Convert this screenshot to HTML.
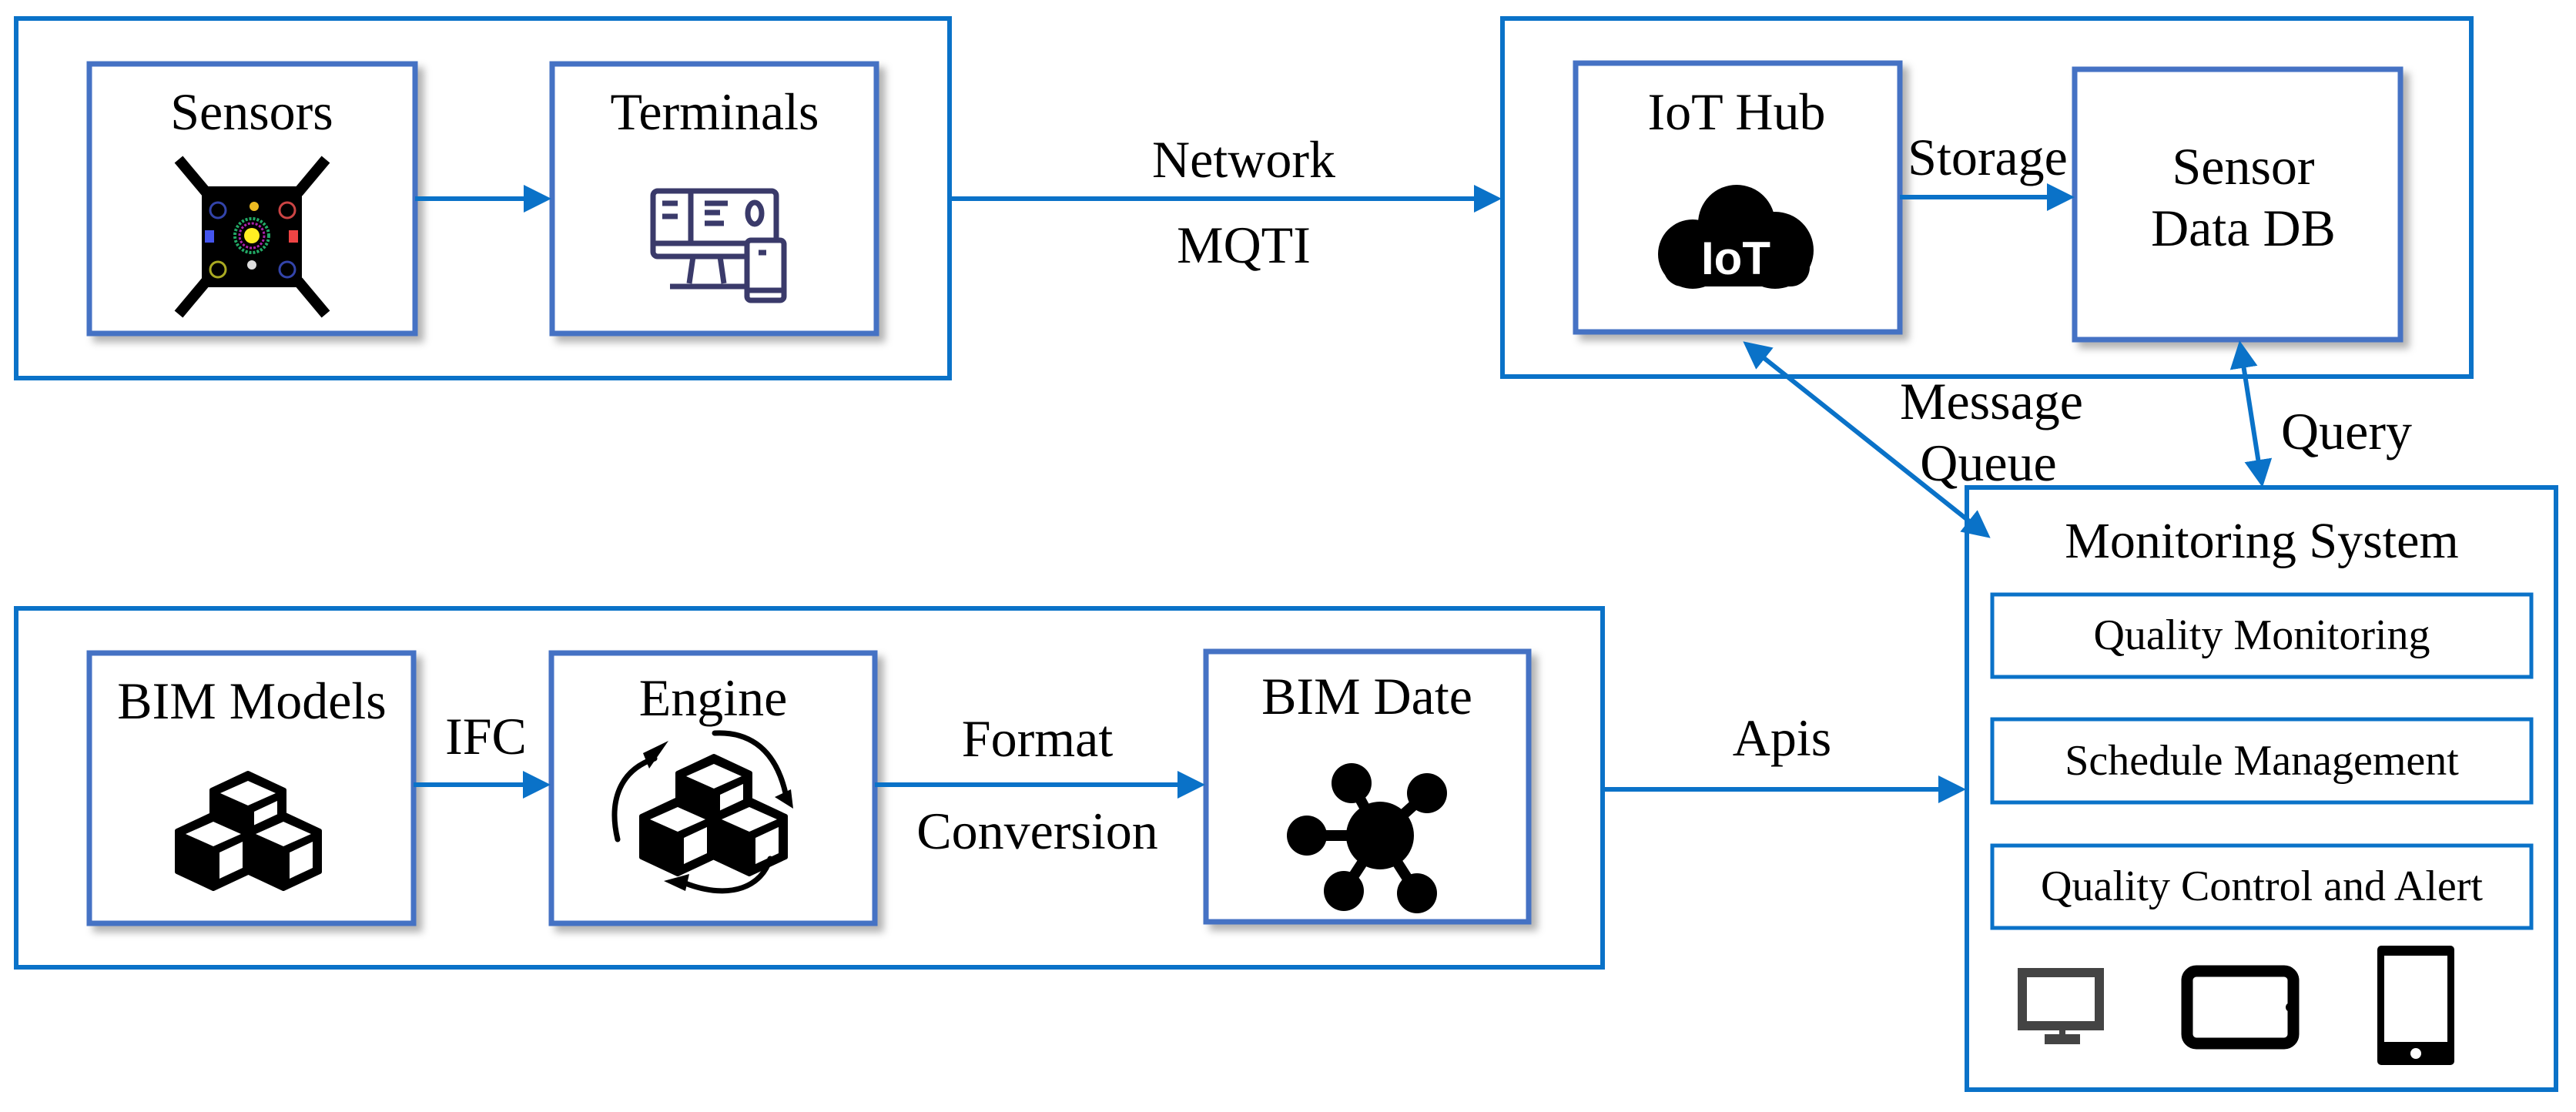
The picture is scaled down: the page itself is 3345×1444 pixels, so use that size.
<!DOCTYPE html>
<html><head><meta charset="utf-8"><style>
html,body{margin:0;padding:0;background:#fff;}
svg{display:block;}
.s{font-family:"Liberation Serif","Times New Roman",Times,serif;fill:#000;}
</style></head><body>
<svg width="3345" height="1444" viewBox="0 0 3345 1444" xmlns="http://www.w3.org/2000/svg">
<defs>
<marker id="ah" markerWidth="6" markerHeight="6" refX="5" refY="3" orient="auto-start-reverse" markerUnits="strokeWidth">
<path d="M0,0 L6,3 L0,6 Z" fill="#0a72c8"/>
</marker>
<filter id="sh" x="-5%" y="-5%" width="115%" height="115%">
<feDropShadow dx="8" dy="8" stdDeviation="5" flood-color="#000" flood-opacity="0.3"/>
</filter>
<g id="cube">
<path d="M0,0 L47,22 L47,75 L0,97 L-47,75 L-47,22 Z" fill="#000" stroke="#000" stroke-width="6" stroke-linejoin="round"/>
<path d="M0,10 L36,26 L0,42 L-36,26 Z" fill="#fff"/>
<path d="M8,50 L38,36 L38,70 L8,84 Z" fill="#fff"/>
</g>
</defs>

<rect x="21" y="24" width="1212" height="467" fill="none" stroke="#0a72c8" stroke-width="6"/>
<rect x="1951" y="24" width="1258" height="465" fill="none" stroke="#0a72c8" stroke-width="6"/>
<rect x="21" y="790" width="2060" height="466" fill="none" stroke="#0a72c8" stroke-width="6"/>
<rect x="2554" y="633" width="765" height="782" fill="none" stroke="#0a72c8" stroke-width="6"/>

<g fill="#fff" stroke="#4472c4" stroke-width="7" filter="url(#sh)">
<rect x="116" y="83" width="423" height="350"/>
<rect x="717" y="83" width="421" height="350"/>
<rect x="2046" y="82" width="421" height="349"/>
<rect x="2694" y="90" width="423" height="351"/>
<rect x="116" y="848" width="421" height="351"/>
<rect x="716" y="848" width="420" height="351"/>
<rect x="1566" y="846" width="419" height="351"/>
</g>
<g fill="none" stroke="#0a72c8" stroke-width="5">
<rect x="2587" y="772" width="700" height="107"/>
<rect x="2587" y="934" width="700" height="108"/>
<rect x="2587" y="1098" width="700" height="107"/>
</g>

<g stroke="#0a72c8" stroke-width="6" fill="none">
<line x1="539" y1="258" x2="710" y2="258" marker-end="url(#ah)"/>
<line x1="1233" y1="258" x2="1944" y2="258" marker-end="url(#ah)"/>
<line x1="2467" y1="256" x2="2688" y2="256" marker-end="url(#ah)"/>
<line x1="537" y1="1019" x2="709" y2="1019" marker-end="url(#ah)"/>
<line x1="1136" y1="1019" x2="1559" y2="1019" marker-end="url(#ah)"/>
<line x1="2081" y1="1025" x2="2547" y2="1025" marker-end="url(#ah)"/>
<line x1="2268" y1="447" x2="2580" y2="695" marker-start="url(#ah)" marker-end="url(#ah)"/>
<line x1="2909" y1="448" x2="2937" y2="627" marker-start="url(#ah)" marker-end="url(#ah)"/>
</g>

<g font-size="68" text-anchor="middle" font-family="'Liberation Serif','Times New Roman',serif" class="s">
<text class="s" x="327" y="168">Sensors</text>
<text class="s" x="928" y="168">Terminals</text>
<text class="s" x="2255" y="168">IoT Hub</text>
<text class="s" x="2913" y="239">Sensor</text>
<text class="s" x="2913" y="319">Data DB</text>
<text class="s" x="2581" y="227">Storage</text>
<text class="s" x="1615" y="230">Network</text>
<text class="s" x="1615" y="341">MQTI</text>
<text class="s" x="2586" y="544">Message</text>
<text class="s" x="2582" y="624">Queue</text>
<text class="s" x="3047" y="583">Query</text>
<text class="s" x="327" y="933">BIM Models</text>
<text class="s" x="631" y="979">IFC</text>
<text class="s" x="926" y="929">Engine</text>
<text class="s" x="1347" y="982">Format</text>
<text class="s" x="1347" y="1102">Conversion</text>
<text class="s" x="1775" y="927">BIM Date</text>
<text class="s" x="2314" y="981">Apis</text>
<text class="s" x="2937" y="724" font-size="66">Monitoring System</text>
</g>
<g font-size="56" text-anchor="middle" font-family="'Liberation Serif','Times New Roman',serif" class="s">
<text class="s" x="2937" y="843">Quality Monitoring</text>
<text class="s" x="2937" y="1006">Schedule Management</text>
<text class="s" x="2937" y="1169">Quality Control and Alert</text>
</g>

<g>
<g stroke="#000" stroke-width="14" stroke-linecap="butt">
<line x1="232" y1="207" x2="268" y2="250"/>
<line x1="423" y1="207" x2="387" y2="250"/>
<line x1="232" y1="408" x2="268" y2="365"/>
<line x1="423" y1="408" x2="387" y2="365"/>
</g>
<rect x="262" y="242" width="130" height="131" fill="#000"/>
<circle cx="283" cy="273" r="10" fill="none" stroke="#3344aa" stroke-width="3"/>
<circle cx="373" cy="273" r="10" fill="none" stroke="#cc4444" stroke-width="3"/>
<circle cx="283" cy="350" r="10" fill="none" stroke="#aaaa22" stroke-width="3"/>
<circle cx="373" cy="350" r="10" fill="none" stroke="#3344aa" stroke-width="3"/>
<circle cx="327" cy="306" r="22" fill="none" stroke="#22aa66" stroke-width="4" stroke-dasharray="3 2"/>
<circle cx="327" cy="306" r="16" fill="none" stroke="#aa22aa" stroke-width="3" stroke-dasharray="3 2"/>
<circle cx="327" cy="306" r="10" fill="#ffee22"/>
<rect x="266" y="299" width="12" height="16" fill="#4455ee"/>
<rect x="375" y="299" width="12" height="16" fill="#ee4444"/>
<circle cx="330" cy="268" r="6" fill="#eebb22"/>
<circle cx="327" cy="344" r="6" fill="#ddd"/>
</g>

<g fill="none" stroke="#3a3a6a" stroke-width="7">
<rect x="848" y="248" width="160" height="85" rx="6"/>
<line x1="848" y1="316" x2="970" y2="316"/>
<line x1="897" y1="248" x2="897" y2="316"/>
<path d="M900,333 L895,368 M935,333 L940,368"/>
<line x1="870" y1="372" x2="970" y2="372"/>
<rect x="970" y="312" width="48" height="78" rx="5" fill="#fff"/>
<line x1="970" y1="377" x2="1018" y2="377"/>
<line x1="985" y1="328" x2="995" y2="328"/>
<line x1="915" y1="264" x2="945" y2="264"/>
<line x1="915" y1="276" x2="935" y2="276"/>
<line x1="915" y1="290" x2="940" y2="290"/>
<ellipse cx="980" cy="277" rx="9" ry="14"/>
<line x1="860" y1="264" x2="880" y2="264"/>
<line x1="860" y1="281" x2="880" y2="281"/>
</g>

<g fill="#000">
<circle cx="2255" cy="290" r="50"/>
<circle cx="2198" cy="330" r="45"/>
<circle cx="2305" cy="325" r="50"/>
<rect x="2160" y="320" width="190" height="52" rx="25"/>
</g>
<text x="2254" y="356" font-weight="bold" font-size="60" text-anchor="middle" style="fill:#fff;font-family:'Liberation Sans',sans-serif">IoT</text>

<use href="#cube" x="322" y="1004"/>
<use href="#cube" x="277" y="1057"/>
<use href="#cube" x="368" y="1057"/>

<use href="#cube" x="927" y="982"/>
<use href="#cube" x="880" y="1038"/>
<use href="#cube" x="973" y="1038"/>
<g fill="none" stroke="#000" stroke-width="7" stroke-linecap="round">
<path d="M802,1090 C790,1040 805,1000 850,985"/>
<path d="M928,952 C965,950 1005,965 1020,1030"/>
<path d="M1000,1115 C990,1150 950,1170 890,1147"/>
</g>
<g fill="#000">
<path d="M868,962 L843,998 L835,978 Z"/>
<path d="M1030,1050 L1006,1035 L1027,1025 Z"/>
<path d="M862,1144 L895,1135 L890,1157 Z"/>
</g>

<g fill="#000" stroke="#000" stroke-width="14">
<line x1="1792" y1="1085" x2="1755" y2="1017"/>
<line x1="1792" y1="1085" x2="1853" y2="1030"/>
<line x1="1792" y1="1085" x2="1697" y2="1085"/>
<line x1="1792" y1="1085" x2="1745" y2="1157"/>
<line x1="1792" y1="1085" x2="1840" y2="1160"/>
</g>
<g fill="#000">
<circle cx="1792" cy="1085" r="44"/>
<circle cx="1755" cy="1017" r="26"/>
<circle cx="1853" cy="1030" r="26"/>
<circle cx="1697" cy="1085" r="26"/>
<circle cx="1745" cy="1157" r="26"/>
<circle cx="1840" cy="1160" r="26"/>
</g>

<rect x="2626" y="1263" width="100" height="69" fill="none" stroke="#444" stroke-width="12"/>
<rect x="2674" y="1338" width="8" height="8" fill="#444"/>
<rect x="2655" y="1343" width="46" height="13" fill="#444"/>
<rect x="2840" y="1261" width="138" height="94" rx="12" fill="none" stroke="#000" stroke-width="15"/>
<circle cx="2974" cy="1308" r="6" fill="#000"/>
<rect x="3087" y="1228" width="100" height="155" rx="5" fill="#000"/>
<rect x="3096" y="1241" width="82" height="112" fill="#fff"/>
<circle cx="3137" cy="1368" r="7" fill="#fff"/>
</svg>
</body></html>
